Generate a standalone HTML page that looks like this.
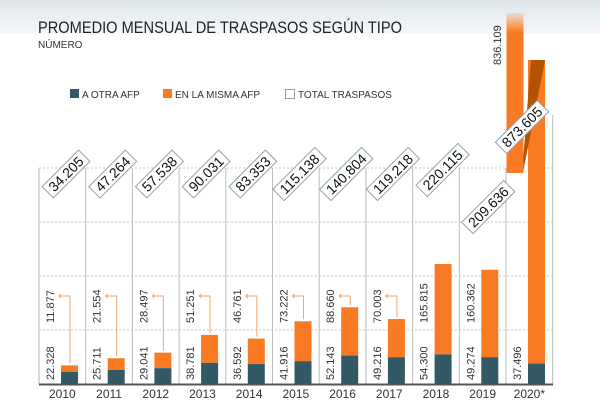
<!DOCTYPE html>
<html><head><meta charset="utf-8"><style>
body{margin:0;background:#fff;}
svg{display:block;font-family:"Liberation Sans",sans-serif;}
</style></head><body>
<svg id="chart" width="600" height="400" viewBox="0 0 600 400">
<defs>
<linearGradient id="hdr" x1="0" y1="0" x2="0" y2="1"><stop offset="0" stop-color="#dfe6ea"/><stop offset="1" stop-color="#f6f8f9"/></linearGradient>
<linearGradient id="fade" x1="0" y1="0" x2="0" y2="1"><stop offset="0" stop-color="#f97a22" stop-opacity="0.15"/><stop offset="0.12" stop-color="#f97a22"/></linearGradient>
</defs>
<rect x="0" y="0" width="600" height="34" fill="url(#hdr)"/>
<text x="38" y="33" font-size="17" fill="#222" transform="translate(38 0) scale(0.86 1) translate(-38 0)">PROMEDIO MENSUAL DE TRASPASOS SEGÚN TIPO</text>
<text x="38" y="48" font-size="10" fill="#333">NÚMERO</text>
<g font-size="10" fill="#333">
<rect x="70" y="89" width="9" height="9" fill="#335966"/>
<text x="82" y="98">A OTRA AFP</text>
<rect x="163" y="89" width="9" height="9" fill="#f97a22"/>
<text x="175" y="98">EN LA MISMA AFP</text>
<rect x="285.5" y="89.5" width="9" height="9" fill="#fff" stroke="#8fa3ae"/>
<text x="298" y="98">TOTAL TRASPASOS</text>
</g>
<g id="plot"></g>
</svg>
<script>
const years=["2010","2011","2012","2013","2014","2015","2016","2017","2018","2019","2020*"];
const otra=[22328,25711,29041,38781,36592,41916,52143,49216,54300,49274,37496];
const misma=[11877,21554,28497,51251,46761,73222,88660,70003,165815,160362,836109];
const totalLabels=["34.205","47.264","57.538","90.031","83.353","115.138","140.804","119.218","220.115","209.636","873.605"];
const otraLabels=["22.328","25.711","29.041","38.781","36.592","41.916","52.143","49.216","54.300","49.274","37.496"];
const mismaLabels=["11.877","21.554","28.497","51.251","46.761","73.222","88.660","70.003","165.815","160.362","836.109"];

const NS="http://www.w3.org/2000/svg";
const g=document.getElementById('plot');
const X0=39,CW=46.7,BASE=384,K=0.000545,TOPCLIP=60;
const colX=i=>X0+i*CW;
const yS=v=>BASE-v*K;
function mk(tag,attrs,parent){const e=document.createElementNS(NS,tag);for(const k in attrs)e.setAttribute(k,attrs[k]);(parent||g).appendChild(e);return e;}

[168,222,276,330].forEach(y=>{
const l=mk('line',{x1:X0,x2:552,y1:y,y2:y,stroke:'#c8c8c8','stroke-dasharray':'2,2'});


});
for(let i=0;i<=years.length;i++){
const x=colX(i);
const top=(i>=years.length)?115:168;
const l=mk('line',{x1:x,x2:x,y1:top,y2:BASE,stroke:i===0?'#d8d8d8':'#bdbdbd','stroke-width':i===0?2:1});


}
const ax=mk('line',{x1:X0,x2:553,y1:BASE+0.5,y2:BASE+0.5,stroke:'#555','stroke-width':2});



years.forEach((yr,i)=>{
const cx=colX(i);
const bx=cx+22,bw=17;
const yo=yS(otra[i]);
const last=i===years.length-1;
let yt=yS(otra[i]+misma[i]);
if(last){
const lo=mk('rect',{x:bx,y:TOPCLIP,width:bw,height:yo-TOPCLIP,fill:'#f97a22'});


const up=mk('rect',{x:cx+0.5,y:13,width:17,height:160,fill:'url(#fade)'});


const br=mk('polygon',{points:`${bx+3},${TOPCLIP} ${bx+bw},${TOPCLIP} ${cx+17.5},${170} ${cx+17.5},${155}`,fill:'#b35300'});


}else{
const m=mk('rect',{x:bx,y:yt,width:bw,height:yo-yt,fill:'#f97a22'});


}
const o=mk('rect',{x:bx,y:yo,width:bw,height:BASE-yo,fill:'#335966'});



const lx=cx+15;
const t1=mk('text',{x:0,y:0,'font-size':11,fill:'#333',transform:`translate(${lx} 380) rotate(-90)`});
t1.textContent=otraLabels[i];


const mx=last?cx-5:lx;
const my=last?65:323;
const t2=mk('text',{x:0,y:0,'font-size':11,fill:'#333',transform:`translate(${mx} ${my}) rotate(-90)`});
t2.textContent=mismaLabels[i];



if(!last && yt>300){
const ax2=cx+31,ay=296;
const p=mk('path',{d:`M${ax2},${yt-2} V${ay} H${cx+20} M${cx+22},${ay-2} L${cx+20},${ay} L${cx+22},${ay+2}`,fill:'none',stroke:'#f9a66c','stroke-width':1});


}
let tx=cx+27,ty=174;
if(i===8){tx=cx+30;ty=170;}
if(i===9){tx=cx+29;ty=207;}
if(last){tx=cx+16;ty=127;}
const tg=mk('g',{transform:`translate(${tx} ${ty}) rotate(-45)`});


const w=totalLabels[i].length*7.6+6;
mk('rect',{x:-w/2,y:-8,width:w,height:16,fill:'#fff',stroke:'#8fa3ae','stroke-width':1},tg);
const tt=mk('text',{x:0,y:5,'font-size':14,'text-anchor':'middle',fill:'#111'},tg);
tt.textContent=totalLabels[i];

const yl=mk('text',{x:cx+CW/2,y:398,'font-size':12,'text-anchor':'middle',fill:'#333'});
yl.textContent=yr;


});
</script>
</body></html>
